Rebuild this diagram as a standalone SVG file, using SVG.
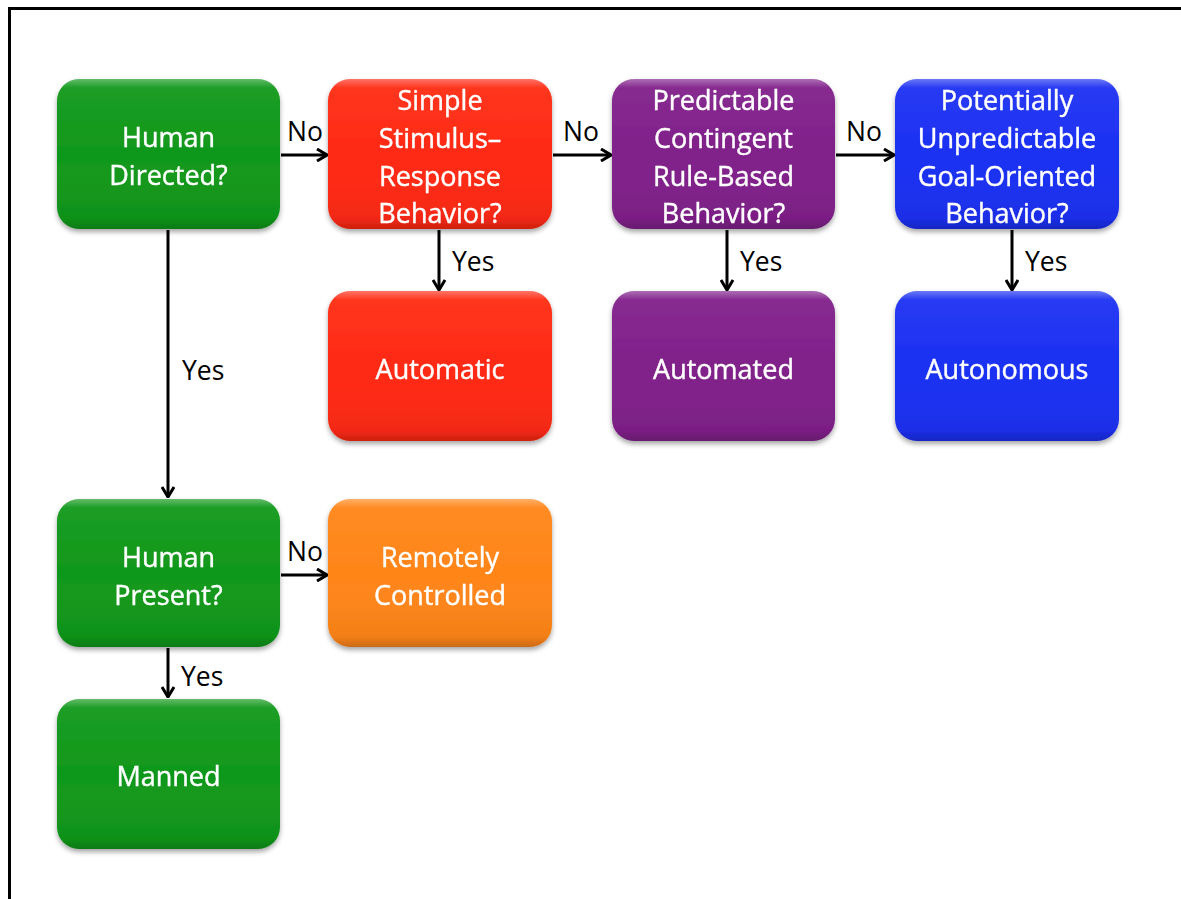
<svg xmlns="http://www.w3.org/2000/svg" width="1181" height="899" viewBox="0 0 1181 899">
<style>
.box{filter:url(#sh)}
.t{font-family:"Open Sans","Liberation Sans",sans-serif;font-size:27px;fill:#fff;stroke:#fff;stroke-width:0.4;text-anchor:middle}
.l{font-family:"Open Sans","Liberation Sans",sans-serif;font-size:26.5px;fill:#000}
.c{stroke:#000;stroke-width:3;fill:none;marker-end:url(#ah)}
.g{fill:#10981a}.r{fill:#ff2a14}.p{fill:#80208a}.b{fill:#1c30f2}.o{fill:#ff8518}
</style>
<defs>
<filter id="sh" x="-10%" y="-10%" width="120%" height="125%">
<feDropShadow dx="0" dy="3" stdDeviation="2.5" flood-color="#000" flood-opacity="0.35"/>
</filter>
<linearGradient id="ov" x1="0" y1="0" x2="0" y2="1">
<stop offset="0" stop-color="#fff" stop-opacity="0.35"/>
<stop offset="0.06" stop-color="#fff" stop-opacity="0.05"/>
<stop offset="0.5" stop-color="#fff" stop-opacity="0"/>
<stop offset="0.93" stop-color="#000" stop-opacity="0.05"/>
<stop offset="1" stop-color="#000" stop-opacity="0.2"/>
</linearGradient>
<marker id="ah" viewBox="0 0 12 14" refX="11" refY="7" markerWidth="12" markerHeight="14" markerUnits="userSpaceOnUse" orient="auto">
<path d="M1,1 L11,7 L1,13" fill="none" stroke="#000" stroke-width="3"/>
</marker>
</defs>
<path d="M9.5,899 V8.5 H1181" fill="none" stroke="#000" stroke-width="3"/>

<g id="connectors">
<path class="c" d="M281,155 H327"/>
<path class="c" d="M553,155 H611"/>
<path class="c" d="M836,155 H894"/>
<path class="c" d="M439,230 V290"/>
<path class="c" d="M727,230 V290"/>
<path class="c" d="M1012,230 V290"/>
<path class="c" d="M168,230 V497"/>
<path class="c" d="M281,575 H327"/>
<path class="c" d="M168,648 V697"/>
<text class="l" x="287" y="141">No</text>
<text class="l" x="563" y="141">No</text>
<text class="l" x="846" y="141">No</text>
<text class="l" x="452" y="271">Yes</text>
<text class="l" x="740" y="271">Yes</text>
<text class="l" x="1025" y="271">Yes</text>
<text class="l" x="182" y="380">Yes</text>
<text class="l" x="287" y="561">No</text>
<text class="l" x="181" y="686">Yes</text>
</g>

<g id="human-directed" class="box">
<rect class="g" x="57" y="79" width="223" height="150" rx="22"/>
<rect x="57" y="79" width="223" height="150" rx="22" fill="url(#ov)"/>
<text class="t" x="168.5" y="147">Human</text>
<text class="t" x="168.5" y="185">Directed?</text>
</g>
<g id="simple" class="box">
<rect class="r" x="328" y="79" width="224" height="150" rx="22"/>
<rect x="328" y="79" width="224" height="150" rx="22" fill="url(#ov)"/>
<text class="t" x="440" y="110">Simple</text>
<text class="t" x="440" y="148">Stimulus–</text>
<text class="t" x="440" y="186">Response</text>
<text class="t" x="440" y="223">Behavior?</text>
</g>
<g id="predictable" class="box">
<rect class="p" x="612" y="79" width="223" height="150" rx="22"/>
<rect x="612" y="79" width="223" height="150" rx="22" fill="url(#ov)"/>
<text class="t" x="723.5" y="110">Predictable</text>
<text class="t" x="723.5" y="148">Contingent</text>
<text class="t" x="723.5" y="186">Rule-Based</text>
<text class="t" x="723.5" y="223">Behavior?</text>
</g>
<g id="potentially" class="box">
<rect class="b" x="895" y="79" width="224" height="150" rx="22"/>
<rect x="895" y="79" width="224" height="150" rx="22" fill="url(#ov)"/>
<text class="t" x="1007" y="110">Potentially</text>
<text class="t" x="1007" y="148">Unpredictable</text>
<text class="t" x="1007" y="186">Goal-Oriented</text>
<text class="t" x="1007" y="223">Behavior?</text>
</g>
<g id="automatic" class="box">
<rect class="r" x="328" y="291" width="224" height="150" rx="22"/>
<rect x="328" y="291" width="224" height="150" rx="22" fill="url(#ov)"/>
<text class="t" x="440" y="379">Automatic</text>
</g>
<g id="automated" class="box">
<rect class="p" x="612" y="291" width="223" height="150" rx="22"/>
<rect x="612" y="291" width="223" height="150" rx="22" fill="url(#ov)"/>
<text class="t" x="723.5" y="379">Automated</text>
</g>
<g id="autonomous" class="box">
<rect class="b" x="895" y="291" width="224" height="150" rx="22"/>
<rect x="895" y="291" width="224" height="150" rx="22" fill="url(#ov)"/>
<text class="t" x="1007" y="379">Autonomous</text>
</g>
<g id="human-present" class="box">
<rect class="g" x="57" y="499" width="223" height="148" rx="22"/>
<rect x="57" y="499" width="223" height="148" rx="22" fill="url(#ov)"/>
<text class="t" x="168.5" y="567">Human</text>
<text class="t" x="168.5" y="605">Present?</text>
</g>
<g id="remotely-controlled" class="box">
<rect class="o" x="328" y="499" width="224" height="148" rx="22"/>
<rect x="328" y="499" width="224" height="148" rx="22" fill="url(#ov)"/>
<text class="t" x="440" y="567">Remotely</text>
<text class="t" x="440" y="605">Controlled</text>
</g>
<g id="manned" class="box">
<rect class="g" x="57" y="699" width="223" height="150" rx="22"/>
<rect x="57" y="699" width="223" height="150" rx="22" fill="url(#ov)"/>
<text class="t" x="168.5" y="786">Manned</text>
</g>
</svg>
